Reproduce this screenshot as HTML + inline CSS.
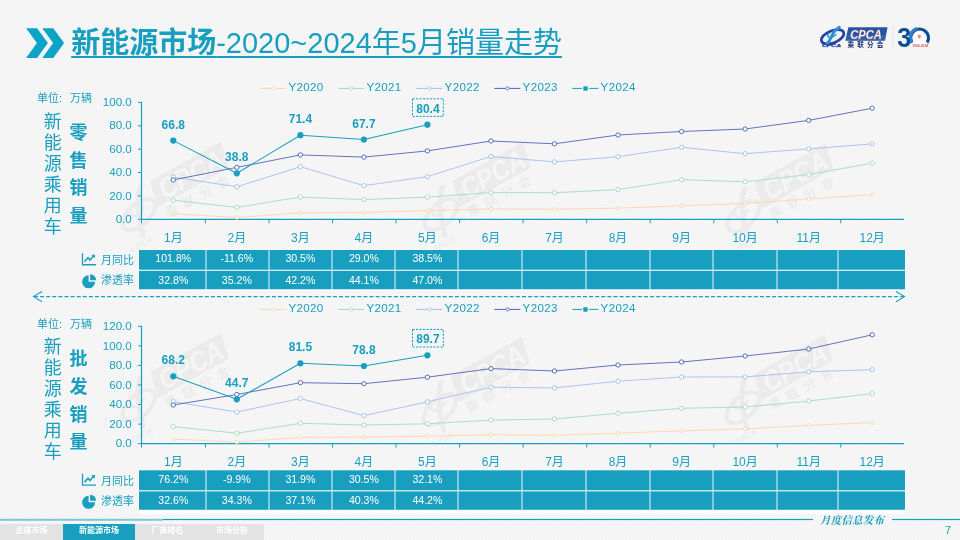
<!DOCTYPE html>
<html lang="zh-CN">
<head>
<meta charset="utf-8">
<title>新能源市场-2020~2024年5月销量走势</title>
<style>
html,body{margin:0;padding:0;}
body{width:960px;height:540px;overflow:hidden;position:relative;font-family:"Liberation Sans","Noto Sans CJK SC",sans-serif;color:#189fbf;
background:#f6f6f6;}
.bg{position:absolute;left:0;top:0;width:960px;height:540px;
}
h1{position:absolute;left:71.2px;top:23.2px;margin:0;font-size:29px;line-height:40px;font-weight:normal;white-space:nowrap;color:#189fbf;
text-decoration:underline;text-decoration-thickness:2px;text-underline-offset:2.8px;}
h1 b{font-weight:bold;}
svg text{font-family:"Liberation Sans","Noto Sans CJK SC",sans-serif;}
.chev{position:absolute;left:20px;top:20px;}
nav{position:absolute;left:0;top:524px;height:16px;display:flex;font-size:8px;font-weight:bold;color:#fff;line-height:14px;}
nav span{display:block;height:16px;text-align:center;background:#e3e3e3;}
nav span.on{background:#189fbf;}
.foot{position:absolute;left:820px;top:511.5px;font-family:"Liberation Serif","Noto Serif CJK SC",serif;font-style:italic;font-weight:bold;font-size:10.5px;letter-spacing:0.2px;color:#189fbf;white-space:nowrap;}
.pn{position:absolute;left:940px;top:524px;width:16px;text-align:center;font-size:11px;color:#189fbf;}
.logo{position:absolute;left:815px;top:20px;}
</style>
</head>
<body>
<svg class="bg" width="960" height="540" viewBox="0 0 960 540" shape-rendering="crispEdges"><defs><pattern id="dg" width="3" height="3" patternUnits="userSpaceOnUse"><rect width="3" height="3" fill="#f2f2f2"/><rect x="0" y="2" width="1" height="1" fill="#fbfbfb"/><rect x="1" y="1" width="1" height="1" fill="#fbfbfb"/><rect x="2" y="0" width="1" height="1" fill="#fbfbfb"/></pattern></defs><rect width="960" height="540" fill="url(#dg)"/></svg>
<svg class="chev" width="50" height="40" viewBox="20 20 50 40"><polygon points="26.1,28.2 37.1,28.2 47.9,43.1 37.1,58 26.1,58 36.9,43.1" fill="#0ca4c6"/><polygon points="42.3,28.2 53.3,28.2 64.1,43.1 53.3,58 42.3,58 53.1,43.1" fill="#0ca4c6"/></svg>
<h1><b>新能源市场</b>-2020~2024年5月销量走势</h1>
<svg class="logo" width="140" height="40" viewBox="815 20 140 40">
<ellipse cx="832.6" cy="36.8" rx="11.9" ry="6.1" fill="#eef3fa" stroke="#2343a0" stroke-width="2.7" transform="rotate(-22 832.6 36.8)"/>
<path d="M839.3,27.2 C836.5,28.8 833.5,32 832,35.5 C830.5,39 829,42 826.6,44.3" fill="none" stroke="#2b8fd9" stroke-width="3" stroke-linecap="round"/>
<path d="M829.2,33.2 C827.6,34.4 827.2,36.4 828.6,37.2 C830.2,38 833.6,36.6 836.4,34.2" fill="none" stroke="#2b8fd9" stroke-width="1.5"/>
<text x="822" y="46.9" font-size="3.8" font-weight="bold" font-style="italic" fill="#1f3f9a" stroke="#1f3f9a" stroke-width="0.25" textLength="19" lengthAdjust="spacingAndGlyphs">CPCA</text>
<polygon points="848.3,27.3 887.5,27.3 885,40.8 845.4,40.8" fill="#2455a4"/>
<polygon points="846.6,35.5 886,35.5 885.6,37.2 846.2,37.2" fill="#4f79bd" opacity="0.6"/>
<polygon points="845.9,38.6 885.4,38.6 885.1,39.8 845.6,39.8" fill="#4f79bd" opacity="0.6"/>
<text x="850.2" y="38.7" font-size="12.8" font-style="italic" font-weight="bold" fill="#ffffff" stroke="#ee7777" stroke-width="0.3" textLength="31.6" lengthAdjust="spacingAndGlyphs">CPCA</text>
<text x="847.6" y="47" font-size="6.6" font-weight="bold" fill="#1c2f6e" letter-spacing="3.1">乘联分会</text>
<line x1="893.1" y1="26" x2="893.1" y2="48" stroke="#e6e6e6" stroke-width="1.2"/>
<circle cx="919.6" cy="37" r="8.4" fill="#ffffff"/>
<path d="M912.0,42.6 A8.9,8.9 0 1 1 927.2,42.6" fill="none" stroke="#0f4c96" stroke-width="3.1"/>
<path d="M912.0,42.6 A8.9,8.9 0 0 1 917.5,28.5" fill="none" stroke="#2c86c6" stroke-width="3.1"/>
<text x="897.2" y="46.9" font-size="27.3" font-weight="bold" fill="#0f4c96" textLength="14" lengthAdjust="spacingAndGlyphs">3</text>
<text x="917.6" y="38.2" font-size="3.8" font-weight="bold" fill="#e05a5a">年</text>
<text x="912.2" y="46.6" font-size="3.4" font-weight="bold" fill="#e05a5a" textLength="16" lengthAdjust="spacingAndGlyphs">1994-2024</text>
</svg>
<svg width="960" height="540" viewBox="0 0 960 540" fill="#189fbf" style="position:absolute;left:0;top:0">
<g transform="translate(150,181) rotate(-29) scale(1.0)">
<polygon points="0,0 81,0 75.4,26.6 -5.6,26.6" fill="#ebebeb"/>
<text x="4" y="23.5" font-size="28" font-weight="bold" font-style="italic" fill="#f5f5f5" textLength="70" lengthAdjust="spacingAndGlyphs">CPCA</text>
<text x="-2" y="41" font-size="13" font-weight="bold" fill="#ebebeb" letter-spacing="6.5">乘联分会</text>
<ellipse cx="-26" cy="24" rx="20" ry="10.5" fill="none" stroke="#ebebeb" stroke-width="4" transform="rotate(-14 -26 24)"/>
<path d="M-10,0 C-20,6 -27,22 -33,46" fill="none" stroke="#ebebeb" stroke-width="5"/>
<path d="M-30,14 C-36,20 -32,28 -18,20" fill="none" stroke="#ebebeb" stroke-width="3"/>
<text x="-50" y="54" font-size="8.5" font-weight="bold" font-style="italic" fill="#ebebeb">CPCA</text>
</g>
<g transform="translate(452,181) rotate(-29) scale(1.0)">
<polygon points="0,0 81,0 75.4,26.6 -5.6,26.6" fill="#ebebeb"/>
<text x="4" y="23.5" font-size="28" font-weight="bold" font-style="italic" fill="#f5f5f5" textLength="70" lengthAdjust="spacingAndGlyphs">CPCA</text>
<text x="-2" y="41" font-size="13" font-weight="bold" fill="#ebebeb" letter-spacing="6.5">乘联分会</text>
<ellipse cx="-26" cy="24" rx="20" ry="10.5" fill="none" stroke="#ebebeb" stroke-width="4" transform="rotate(-14 -26 24)"/>
<path d="M-10,0 C-20,6 -27,22 -33,46" fill="none" stroke="#ebebeb" stroke-width="5"/>
<path d="M-30,14 C-36,20 -32,28 -18,20" fill="none" stroke="#ebebeb" stroke-width="3"/>
<text x="-50" y="54" font-size="8.5" font-weight="bold" font-style="italic" fill="#ebebeb">CPCA</text>
</g>
<g transform="translate(754.5,182.5) rotate(-29) scale(1.0)">
<polygon points="0,0 81,0 75.4,26.6 -5.6,26.6" fill="#ebebeb"/>
<text x="4" y="23.5" font-size="28" font-weight="bold" font-style="italic" fill="#f5f5f5" textLength="70" lengthAdjust="spacingAndGlyphs">CPCA</text>
<text x="-2" y="41" font-size="13" font-weight="bold" fill="#ebebeb" letter-spacing="6.5">乘联分会</text>
<ellipse cx="-26" cy="24" rx="20" ry="10.5" fill="none" stroke="#ebebeb" stroke-width="4" transform="rotate(-14 -26 24)"/>
<path d="M-10,0 C-20,6 -27,22 -33,46" fill="none" stroke="#ebebeb" stroke-width="5"/>
<path d="M-30,14 C-36,20 -32,28 -18,20" fill="none" stroke="#ebebeb" stroke-width="3"/>
<text x="-50" y="54" font-size="8.5" font-weight="bold" font-style="italic" fill="#ebebeb">CPCA</text>
</g>
<g transform="translate(150,372) rotate(-29) scale(1.0)">
<polygon points="0,0 81,0 75.4,26.6 -5.6,26.6" fill="#ebebeb"/>
<text x="4" y="23.5" font-size="28" font-weight="bold" font-style="italic" fill="#f5f5f5" textLength="70" lengthAdjust="spacingAndGlyphs">CPCA</text>
<text x="-2" y="41" font-size="13" font-weight="bold" fill="#ebebeb" letter-spacing="6.5">乘联分会</text>
<ellipse cx="-26" cy="24" rx="20" ry="10.5" fill="none" stroke="#ebebeb" stroke-width="4" transform="rotate(-14 -26 24)"/>
<path d="M-10,0 C-20,6 -27,22 -33,46" fill="none" stroke="#ebebeb" stroke-width="5"/>
<path d="M-30,14 C-36,20 -32,28 -18,20" fill="none" stroke="#ebebeb" stroke-width="3"/>
<text x="-50" y="54" font-size="8.5" font-weight="bold" font-style="italic" fill="#ebebeb">CPCA</text>
</g>
<g transform="translate(451,376) rotate(-29) scale(1.0)">
<polygon points="0,0 81,0 75.4,26.6 -5.6,26.6" fill="#ebebeb"/>
<text x="4" y="23.5" font-size="28" font-weight="bold" font-style="italic" fill="#f5f5f5" textLength="70" lengthAdjust="spacingAndGlyphs">CPCA</text>
<text x="-2" y="41" font-size="13" font-weight="bold" fill="#ebebeb" letter-spacing="6.5">乘联分会</text>
<ellipse cx="-26" cy="24" rx="20" ry="10.5" fill="none" stroke="#ebebeb" stroke-width="4" transform="rotate(-14 -26 24)"/>
<path d="M-10,0 C-20,6 -27,22 -33,46" fill="none" stroke="#ebebeb" stroke-width="5"/>
<path d="M-30,14 C-36,20 -32,28 -18,20" fill="none" stroke="#ebebeb" stroke-width="3"/>
<text x="-50" y="54" font-size="8.5" font-weight="bold" font-style="italic" fill="#ebebeb">CPCA</text>
</g>
<g transform="translate(754,374) rotate(-29) scale(1.0)">
<polygon points="0,0 81,0 75.4,26.6 -5.6,26.6" fill="#ebebeb"/>
<text x="4" y="23.5" font-size="28" font-weight="bold" font-style="italic" fill="#f5f5f5" textLength="70" lengthAdjust="spacingAndGlyphs">CPCA</text>
<text x="-2" y="41" font-size="13" font-weight="bold" fill="#ebebeb" letter-spacing="6.5">乘联分会</text>
<ellipse cx="-26" cy="24" rx="20" ry="10.5" fill="none" stroke="#ebebeb" stroke-width="4" transform="rotate(-14 -26 24)"/>
<path d="M-10,0 C-20,6 -27,22 -33,46" fill="none" stroke="#ebebeb" stroke-width="5"/>
<path d="M-30,14 C-36,20 -32,28 -18,20" fill="none" stroke="#ebebeb" stroke-width="3"/>
<text x="-50" y="54" font-size="8.5" font-weight="bold" font-style="italic" fill="#ebebeb">CPCA</text>
</g>
<line x1="260.2" y1="88.4" x2="286.2" y2="88.4" stroke="#f9d7a6" stroke-width="1"/>
<circle cx="273.4" cy="88.4" r="1.6" fill="#fff" stroke="#f9d7a6" stroke-width="0.8"/>
<text x="288.5" y="91.2" font-size="11.6" letter-spacing="0.32" style="font-kerning:none">Y2020</text>
<line x1="338.2" y1="88.4" x2="364.2" y2="88.4" stroke="#a4dbbe" stroke-width="1"/>
<circle cx="351.4" cy="88.4" r="1.6" fill="#fff" stroke="#a4dbbe" stroke-width="0.8"/>
<text x="366.5" y="91.2" font-size="11.6" letter-spacing="0.32" style="font-kerning:none">Y2021</text>
<line x1="416.3" y1="88.4" x2="442.3" y2="88.4" stroke="#a3c0ef" stroke-width="1"/>
<circle cx="429.5" cy="88.4" r="1.6" fill="#fff" stroke="#a3c0ef" stroke-width="0.8"/>
<text x="444.6" y="91.2" font-size="11.6" letter-spacing="0.32" style="font-kerning:none">Y2022</text>
<line x1="494.3" y1="88.4" x2="520.3" y2="88.4" stroke="#5165b6" stroke-width="1"/>
<circle cx="507.5" cy="88.4" r="1.6" fill="#fff" stroke="#5165b6" stroke-width="0.8"/>
<text x="522.6" y="91.2" font-size="11.6" letter-spacing="0.32" style="font-kerning:none">Y2023</text>
<line x1="572.3" y1="88.4" x2="598.3" y2="88.4" stroke="#189fbf" stroke-width="1"/>
<rect x="582.6" y="85.5" width="5.8" height="5.8" rx="1.6" fill="#189fbf" stroke="#f6f6f6" stroke-width="1.3"/>
<text x="600.6" y="91.2" font-size="11.6" letter-spacing="0.32" style="font-kerning:none">Y2024</text>
<line x1="141.5" y1="101.9" x2="141.5" y2="219.8" stroke="#189fbf" stroke-width="1.25"/>
<line x1="141.0" y1="219.3" x2="904" y2="219.3" stroke="#189fbf" stroke-width="1.25"/>
<line x1="138.0" y1="219.3" x2="141.5" y2="219.3" stroke="#189fbf" stroke-width="1"/>
<text x="131.8" y="222.9" font-size="11.6" text-anchor="end">0.0</text>
<line x1="138.0" y1="195.9" x2="141.5" y2="195.9" stroke="#189fbf" stroke-width="1"/>
<text x="131.8" y="199.5" font-size="11.6" text-anchor="end">20.0</text>
<line x1="138.0" y1="172.5" x2="141.5" y2="172.5" stroke="#189fbf" stroke-width="1"/>
<text x="131.8" y="176.1" font-size="11.6" text-anchor="end">40.0</text>
<line x1="138.0" y1="149.2" x2="141.5" y2="149.2" stroke="#189fbf" stroke-width="1"/>
<text x="131.8" y="152.8" font-size="11.6" text-anchor="end">60.0</text>
<line x1="138.0" y1="125.8" x2="141.5" y2="125.8" stroke="#189fbf" stroke-width="1"/>
<text x="131.8" y="129.4" font-size="11.6" text-anchor="end">80.0</text>
<line x1="138.0" y1="102.4" x2="141.5" y2="102.4" stroke="#189fbf" stroke-width="1"/>
<text x="131.8" y="106.0" font-size="11.6" text-anchor="end">100.0</text>
<line x1="141.5" y1="219.3" x2="141.5" y2="223.3" stroke="#189fbf" stroke-width="1"/>
<line x1="205.4" y1="219.3" x2="205.4" y2="223.3" stroke="#189fbf" stroke-width="1"/>
<line x1="269.0" y1="219.3" x2="269.0" y2="223.3" stroke="#189fbf" stroke-width="1"/>
<line x1="332.5" y1="219.3" x2="332.5" y2="223.3" stroke="#189fbf" stroke-width="1"/>
<line x1="396.1" y1="219.3" x2="396.1" y2="223.3" stroke="#189fbf" stroke-width="1"/>
<line x1="459.6" y1="219.3" x2="459.6" y2="223.3" stroke="#189fbf" stroke-width="1"/>
<line x1="523.1" y1="219.3" x2="523.1" y2="223.3" stroke="#189fbf" stroke-width="1"/>
<line x1="586.7" y1="219.3" x2="586.7" y2="223.3" stroke="#189fbf" stroke-width="1"/>
<line x1="650.2" y1="219.3" x2="650.2" y2="223.3" stroke="#189fbf" stroke-width="1"/>
<line x1="713.8" y1="219.3" x2="713.8" y2="223.3" stroke="#189fbf" stroke-width="1"/>
<line x1="777.3" y1="219.3" x2="777.3" y2="223.3" stroke="#189fbf" stroke-width="1"/>
<line x1="840.8" y1="219.3" x2="840.8" y2="223.3" stroke="#189fbf" stroke-width="1"/>
<text x="173.3" y="241.5" font-size="12" text-anchor="middle">1月</text>
<text x="236.8" y="241.5" font-size="12" text-anchor="middle">2月</text>
<text x="300.4" y="241.5" font-size="12" text-anchor="middle">3月</text>
<text x="363.9" y="241.5" font-size="12" text-anchor="middle">4月</text>
<text x="427.4" y="241.5" font-size="12" text-anchor="middle">5月</text>
<text x="491.0" y="241.5" font-size="12" text-anchor="middle">6月</text>
<text x="554.5" y="241.5" font-size="12" text-anchor="middle">7月</text>
<text x="618.0" y="241.5" font-size="12" text-anchor="middle">8月</text>
<text x="681.6" y="241.5" font-size="12" text-anchor="middle">9月</text>
<text x="745.1" y="241.5" font-size="12" text-anchor="middle">10月</text>
<text x="808.7" y="241.5" font-size="12" text-anchor="middle">11月</text>
<text x="872.2" y="241.5" font-size="12" text-anchor="middle">12月</text>
<polyline points="173.3,213.8 236.8,217.5 300.4,212.9 363.9,212.5 427.4,210.5 491.0,209.0 554.5,209.3 618.0,208.2 681.6,205.8 745.1,203.5 808.7,198.9 872.2,194.6" fill="none" stroke="#f9d7a6" stroke-width="0.9" stroke-linejoin="round"/>
<circle cx="173.3" cy="213.8" r="1.75" fill="#fff" stroke="#f9d7a6" stroke-width="0.95"/>
<circle cx="236.8" cy="217.5" r="1.75" fill="#fff" stroke="#f9d7a6" stroke-width="0.95"/>
<circle cx="300.4" cy="212.9" r="1.75" fill="#fff" stroke="#f9d7a6" stroke-width="0.95"/>
<circle cx="363.9" cy="212.5" r="1.75" fill="#fff" stroke="#f9d7a6" stroke-width="0.95"/>
<circle cx="427.4" cy="210.5" r="1.75" fill="#fff" stroke="#f9d7a6" stroke-width="0.95"/>
<circle cx="491.0" cy="209.0" r="1.75" fill="#fff" stroke="#f9d7a6" stroke-width="0.95"/>
<circle cx="554.5" cy="209.3" r="1.75" fill="#fff" stroke="#f9d7a6" stroke-width="0.95"/>
<circle cx="618.0" cy="208.2" r="1.75" fill="#fff" stroke="#f9d7a6" stroke-width="0.95"/>
<circle cx="681.6" cy="205.8" r="1.75" fill="#fff" stroke="#f9d7a6" stroke-width="0.95"/>
<circle cx="745.1" cy="203.5" r="1.75" fill="#fff" stroke="#f9d7a6" stroke-width="0.95"/>
<circle cx="808.7" cy="198.9" r="1.75" fill="#fff" stroke="#f9d7a6" stroke-width="0.95"/>
<circle cx="872.2" cy="194.6" r="1.75" fill="#fff" stroke="#f9d7a6" stroke-width="0.95"/>
<polyline points="173.3,200.2 236.8,207.4 300.4,197.1 363.9,199.6 427.4,197.1 491.0,192.6 554.5,192.7 618.0,189.6 681.6,179.7 745.1,181.8 808.7,174.5 872.2,163.2" fill="none" stroke="#a4dbbe" stroke-width="0.9" stroke-linejoin="round"/>
<circle cx="173.3" cy="200.2" r="2.15" fill="#fff" stroke="#a4dbbe" stroke-width="0.95"/>
<circle cx="236.8" cy="207.4" r="2.15" fill="#fff" stroke="#a4dbbe" stroke-width="0.95"/>
<circle cx="300.4" cy="197.1" r="2.15" fill="#fff" stroke="#a4dbbe" stroke-width="0.95"/>
<circle cx="363.9" cy="199.6" r="2.15" fill="#fff" stroke="#a4dbbe" stroke-width="0.95"/>
<circle cx="427.4" cy="197.1" r="2.15" fill="#fff" stroke="#a4dbbe" stroke-width="0.95"/>
<circle cx="491.0" cy="192.6" r="2.15" fill="#fff" stroke="#a4dbbe" stroke-width="0.95"/>
<circle cx="554.5" cy="192.7" r="2.15" fill="#fff" stroke="#a4dbbe" stroke-width="0.95"/>
<circle cx="618.0" cy="189.6" r="2.15" fill="#fff" stroke="#a4dbbe" stroke-width="0.95"/>
<circle cx="681.6" cy="179.7" r="2.15" fill="#fff" stroke="#a4dbbe" stroke-width="0.95"/>
<circle cx="745.1" cy="181.8" r="2.15" fill="#fff" stroke="#a4dbbe" stroke-width="0.95"/>
<circle cx="808.7" cy="174.5" r="2.15" fill="#fff" stroke="#a4dbbe" stroke-width="0.95"/>
<circle cx="872.2" cy="163.2" r="2.15" fill="#fff" stroke="#a4dbbe" stroke-width="0.95"/>
<polyline points="173.3,177.1 236.8,186.8 300.4,166.7 363.9,185.7 427.4,176.6 491.0,156.5 554.5,161.9 618.0,156.7 681.6,147.3 745.1,153.7 808.7,148.8 872.2,143.9" fill="none" stroke="#a3c0ef" stroke-width="0.9" stroke-linejoin="round"/>
<circle cx="173.3" cy="177.1" r="2.15" fill="#fff" stroke="#a3c0ef" stroke-width="0.95"/>
<circle cx="236.8" cy="186.8" r="2.15" fill="#fff" stroke="#a3c0ef" stroke-width="0.95"/>
<circle cx="300.4" cy="166.7" r="2.15" fill="#fff" stroke="#a3c0ef" stroke-width="0.95"/>
<circle cx="363.9" cy="185.7" r="2.15" fill="#fff" stroke="#a3c0ef" stroke-width="0.95"/>
<circle cx="427.4" cy="176.6" r="2.15" fill="#fff" stroke="#a3c0ef" stroke-width="0.95"/>
<circle cx="491.0" cy="156.5" r="2.15" fill="#fff" stroke="#a3c0ef" stroke-width="0.95"/>
<circle cx="554.5" cy="161.9" r="2.15" fill="#fff" stroke="#a3c0ef" stroke-width="0.95"/>
<circle cx="618.0" cy="156.7" r="2.15" fill="#fff" stroke="#a3c0ef" stroke-width="0.95"/>
<circle cx="681.6" cy="147.3" r="2.15" fill="#fff" stroke="#a3c0ef" stroke-width="0.95"/>
<circle cx="745.1" cy="153.7" r="2.15" fill="#fff" stroke="#a3c0ef" stroke-width="0.95"/>
<circle cx="808.7" cy="148.8" r="2.15" fill="#fff" stroke="#a3c0ef" stroke-width="0.95"/>
<circle cx="872.2" cy="143.9" r="2.15" fill="#fff" stroke="#a3c0ef" stroke-width="0.95"/>
<polyline points="173.3,179.9 236.8,167.4 300.4,154.9 363.9,157.1 427.4,150.9 491.0,141.0 554.5,143.8 618.0,135.0 681.6,131.5 745.1,129.0 808.7,120.4 872.2,108.2" fill="none" stroke="#5165b6" stroke-width="0.9" stroke-linejoin="round"/>
<circle cx="173.3" cy="179.9" r="2.15" fill="#fff" stroke="#5165b6" stroke-width="0.95"/>
<circle cx="236.8" cy="167.4" r="2.15" fill="#fff" stroke="#5165b6" stroke-width="0.95"/>
<circle cx="300.4" cy="154.9" r="2.15" fill="#fff" stroke="#5165b6" stroke-width="0.95"/>
<circle cx="363.9" cy="157.1" r="2.15" fill="#fff" stroke="#5165b6" stroke-width="0.95"/>
<circle cx="427.4" cy="150.9" r="2.15" fill="#fff" stroke="#5165b6" stroke-width="0.95"/>
<circle cx="491.0" cy="141.0" r="2.15" fill="#fff" stroke="#5165b6" stroke-width="0.95"/>
<circle cx="554.5" cy="143.8" r="2.15" fill="#fff" stroke="#5165b6" stroke-width="0.95"/>
<circle cx="618.0" cy="135.0" r="2.15" fill="#fff" stroke="#5165b6" stroke-width="0.95"/>
<circle cx="681.6" cy="131.5" r="2.15" fill="#fff" stroke="#5165b6" stroke-width="0.95"/>
<circle cx="745.1" cy="129.0" r="2.15" fill="#fff" stroke="#5165b6" stroke-width="0.95"/>
<circle cx="808.7" cy="120.4" r="2.15" fill="#fff" stroke="#5165b6" stroke-width="0.95"/>
<circle cx="872.2" cy="108.2" r="2.15" fill="#fff" stroke="#5165b6" stroke-width="0.95"/>
<polyline points="173.3,140.6 236.8,173.3 300.4,135.2 363.9,139.6 427.4,124.7" fill="none" stroke="#189fbf" stroke-width="1.05" stroke-linejoin="round"/>
<circle cx="173.3" cy="140.6" r="3.1" fill="#189fbf"/>
<circle cx="236.8" cy="173.3" r="3.1" fill="#189fbf"/>
<circle cx="300.4" cy="135.2" r="3.1" fill="#189fbf"/>
<circle cx="363.9" cy="139.6" r="3.1" fill="#189fbf"/>
<circle cx="427.4" cy="124.7" r="3.1" fill="#189fbf"/>
<text x="173.3" y="128.6" font-size="12" font-weight="bold" text-anchor="middle">66.8</text>
<text x="236.8" y="161.3" font-size="12" font-weight="bold" text-anchor="middle">38.8</text>
<text x="300.4" y="123.2" font-size="12" font-weight="bold" text-anchor="middle">71.4</text>
<text x="363.9" y="127.6" font-size="12" font-weight="bold" text-anchor="middle">67.7</text>
<rect x="412.5" y="98.8" width="30.8" height="17.6" fill="none" stroke="#189fbf" stroke-width="1" stroke-dasharray="2.2 1.3"/>
<text x="427.9" y="112.7" font-size="12" font-weight="bold" text-anchor="middle">80.4</text>
<line x1="260.2" y1="309.4" x2="286.2" y2="309.4" stroke="#f9d7a6" stroke-width="1"/>
<circle cx="273.4" cy="309.4" r="1.6" fill="#fff" stroke="#f9d7a6" stroke-width="0.8"/>
<text x="288.5" y="312.2" font-size="11.6" letter-spacing="0.32" style="font-kerning:none">Y2020</text>
<line x1="338.2" y1="309.4" x2="364.2" y2="309.4" stroke="#a4dbbe" stroke-width="1"/>
<circle cx="351.4" cy="309.4" r="1.6" fill="#fff" stroke="#a4dbbe" stroke-width="0.8"/>
<text x="366.5" y="312.2" font-size="11.6" letter-spacing="0.32" style="font-kerning:none">Y2021</text>
<line x1="416.3" y1="309.4" x2="442.3" y2="309.4" stroke="#a3c0ef" stroke-width="1"/>
<circle cx="429.5" cy="309.4" r="1.6" fill="#fff" stroke="#a3c0ef" stroke-width="0.8"/>
<text x="444.6" y="312.2" font-size="11.6" letter-spacing="0.32" style="font-kerning:none">Y2022</text>
<line x1="494.3" y1="309.4" x2="520.3" y2="309.4" stroke="#5165b6" stroke-width="1"/>
<circle cx="507.5" cy="309.4" r="1.6" fill="#fff" stroke="#5165b6" stroke-width="0.8"/>
<text x="522.6" y="312.2" font-size="11.6" letter-spacing="0.32" style="font-kerning:none">Y2023</text>
<line x1="572.3" y1="309.4" x2="598.3" y2="309.4" stroke="#189fbf" stroke-width="1"/>
<rect x="582.6" y="306.5" width="5.8" height="5.8" rx="1.6" fill="#189fbf" stroke="#f6f6f6" stroke-width="1.3"/>
<text x="600.6" y="312.2" font-size="11.6" letter-spacing="0.32" style="font-kerning:none">Y2024</text>
<line x1="141.5" y1="325.8" x2="141.5" y2="444.1" stroke="#189fbf" stroke-width="1.25"/>
<line x1="141.0" y1="443.6" x2="904" y2="443.6" stroke="#189fbf" stroke-width="1.25"/>
<line x1="138.0" y1="443.6" x2="141.5" y2="443.6" stroke="#189fbf" stroke-width="1"/>
<text x="131.8" y="447.2" font-size="11.6" text-anchor="end">0.0</text>
<line x1="138.0" y1="424.1" x2="141.5" y2="424.1" stroke="#189fbf" stroke-width="1"/>
<text x="131.8" y="427.7" font-size="11.6" text-anchor="end">20.0</text>
<line x1="138.0" y1="404.5" x2="141.5" y2="404.5" stroke="#189fbf" stroke-width="1"/>
<text x="131.8" y="408.1" font-size="11.6" text-anchor="end">40.0</text>
<line x1="138.0" y1="385.0" x2="141.5" y2="385.0" stroke="#189fbf" stroke-width="1"/>
<text x="131.8" y="388.6" font-size="11.6" text-anchor="end">60.0</text>
<line x1="138.0" y1="365.4" x2="141.5" y2="365.4" stroke="#189fbf" stroke-width="1"/>
<text x="131.8" y="369.0" font-size="11.6" text-anchor="end">80.0</text>
<line x1="138.0" y1="345.9" x2="141.5" y2="345.9" stroke="#189fbf" stroke-width="1"/>
<text x="131.8" y="349.5" font-size="11.6" text-anchor="end">100.0</text>
<line x1="138.0" y1="326.3" x2="141.5" y2="326.3" stroke="#189fbf" stroke-width="1"/>
<text x="131.8" y="329.9" font-size="11.6" text-anchor="end">120.0</text>
<line x1="141.5" y1="443.6" x2="141.5" y2="447.6" stroke="#189fbf" stroke-width="1"/>
<line x1="205.4" y1="443.6" x2="205.4" y2="447.6" stroke="#189fbf" stroke-width="1"/>
<line x1="269.0" y1="443.6" x2="269.0" y2="447.6" stroke="#189fbf" stroke-width="1"/>
<line x1="332.5" y1="443.6" x2="332.5" y2="447.6" stroke="#189fbf" stroke-width="1"/>
<line x1="396.1" y1="443.6" x2="396.1" y2="447.6" stroke="#189fbf" stroke-width="1"/>
<line x1="459.6" y1="443.6" x2="459.6" y2="447.6" stroke="#189fbf" stroke-width="1"/>
<line x1="523.1" y1="443.6" x2="523.1" y2="447.6" stroke="#189fbf" stroke-width="1"/>
<line x1="586.7" y1="443.6" x2="586.7" y2="447.6" stroke="#189fbf" stroke-width="1"/>
<line x1="650.2" y1="443.6" x2="650.2" y2="447.6" stroke="#189fbf" stroke-width="1"/>
<line x1="713.8" y1="443.6" x2="713.8" y2="447.6" stroke="#189fbf" stroke-width="1"/>
<line x1="777.3" y1="443.6" x2="777.3" y2="447.6" stroke="#189fbf" stroke-width="1"/>
<line x1="840.8" y1="443.6" x2="840.8" y2="447.6" stroke="#189fbf" stroke-width="1"/>
<text x="173.3" y="465.5" font-size="12" text-anchor="middle">1月</text>
<text x="236.8" y="465.5" font-size="12" text-anchor="middle">2月</text>
<text x="300.4" y="465.5" font-size="12" text-anchor="middle">3月</text>
<text x="363.9" y="465.5" font-size="12" text-anchor="middle">4月</text>
<text x="427.4" y="465.5" font-size="12" text-anchor="middle">5月</text>
<text x="491.0" y="465.5" font-size="12" text-anchor="middle">6月</text>
<text x="554.5" y="465.5" font-size="12" text-anchor="middle">7月</text>
<text x="618.0" y="465.5" font-size="12" text-anchor="middle">8月</text>
<text x="681.6" y="465.5" font-size="12" text-anchor="middle">9月</text>
<text x="745.1" y="465.5" font-size="12" text-anchor="middle">10月</text>
<text x="808.7" y="465.5" font-size="12" text-anchor="middle">11月</text>
<text x="872.2" y="465.5" font-size="12" text-anchor="middle">12月</text>
<polyline points="173.3,439.1 236.8,441.9 300.4,437.5 363.9,437.1 427.4,436.2 491.0,434.7 554.5,435.2 618.0,433.2 681.6,430.8 745.1,428.9 808.7,425.4 872.2,422.5" fill="none" stroke="#f9d7a6" stroke-width="0.9" stroke-linejoin="round"/>
<circle cx="173.3" cy="439.1" r="1.75" fill="#fff" stroke="#f9d7a6" stroke-width="0.95"/>
<circle cx="236.8" cy="441.9" r="1.75" fill="#fff" stroke="#f9d7a6" stroke-width="0.95"/>
<circle cx="300.4" cy="437.5" r="1.75" fill="#fff" stroke="#f9d7a6" stroke-width="0.95"/>
<circle cx="363.9" cy="437.1" r="1.75" fill="#fff" stroke="#f9d7a6" stroke-width="0.95"/>
<circle cx="427.4" cy="436.2" r="1.75" fill="#fff" stroke="#f9d7a6" stroke-width="0.95"/>
<circle cx="491.0" cy="434.7" r="1.75" fill="#fff" stroke="#f9d7a6" stroke-width="0.95"/>
<circle cx="554.5" cy="435.2" r="1.75" fill="#fff" stroke="#f9d7a6" stroke-width="0.95"/>
<circle cx="618.0" cy="433.2" r="1.75" fill="#fff" stroke="#f9d7a6" stroke-width="0.95"/>
<circle cx="681.6" cy="430.8" r="1.75" fill="#fff" stroke="#f9d7a6" stroke-width="0.95"/>
<circle cx="745.1" cy="428.9" r="1.75" fill="#fff" stroke="#f9d7a6" stroke-width="0.95"/>
<circle cx="808.7" cy="425.4" r="1.75" fill="#fff" stroke="#f9d7a6" stroke-width="0.95"/>
<circle cx="872.2" cy="422.5" r="1.75" fill="#fff" stroke="#f9d7a6" stroke-width="0.95"/>
<polyline points="173.3,426.6 236.8,433.2 300.4,423.3 363.9,425.0 427.4,423.8 491.0,420.1 554.5,419.0 618.0,413.3 681.6,408.3 745.1,407.0 808.7,401.1 872.2,393.6" fill="none" stroke="#a4dbbe" stroke-width="0.9" stroke-linejoin="round"/>
<circle cx="173.3" cy="426.6" r="2.15" fill="#fff" stroke="#a4dbbe" stroke-width="0.95"/>
<circle cx="236.8" cy="433.2" r="2.15" fill="#fff" stroke="#a4dbbe" stroke-width="0.95"/>
<circle cx="300.4" cy="423.3" r="2.15" fill="#fff" stroke="#a4dbbe" stroke-width="0.95"/>
<circle cx="363.9" cy="425.0" r="2.15" fill="#fff" stroke="#a4dbbe" stroke-width="0.95"/>
<circle cx="427.4" cy="423.8" r="2.15" fill="#fff" stroke="#a4dbbe" stroke-width="0.95"/>
<circle cx="491.0" cy="420.1" r="2.15" fill="#fff" stroke="#a4dbbe" stroke-width="0.95"/>
<circle cx="554.5" cy="419.0" r="2.15" fill="#fff" stroke="#a4dbbe" stroke-width="0.95"/>
<circle cx="618.0" cy="413.3" r="2.15" fill="#fff" stroke="#a4dbbe" stroke-width="0.95"/>
<circle cx="681.6" cy="408.3" r="2.15" fill="#fff" stroke="#a4dbbe" stroke-width="0.95"/>
<circle cx="745.1" cy="407.0" r="2.15" fill="#fff" stroke="#a4dbbe" stroke-width="0.95"/>
<circle cx="808.7" cy="401.1" r="2.15" fill="#fff" stroke="#a4dbbe" stroke-width="0.95"/>
<circle cx="872.2" cy="393.6" r="2.15" fill="#fff" stroke="#a4dbbe" stroke-width="0.95"/>
<polyline points="173.3,401.7 236.8,412.0 300.4,398.5 363.9,415.6 427.4,401.8 491.0,387.2 554.5,387.9 618.0,381.2 681.6,377.0 745.1,376.9 808.7,371.8 872.2,369.7" fill="none" stroke="#a3c0ef" stroke-width="0.9" stroke-linejoin="round"/>
<circle cx="173.3" cy="401.7" r="2.15" fill="#fff" stroke="#a3c0ef" stroke-width="0.95"/>
<circle cx="236.8" cy="412.0" r="2.15" fill="#fff" stroke="#a3c0ef" stroke-width="0.95"/>
<circle cx="300.4" cy="398.5" r="2.15" fill="#fff" stroke="#a3c0ef" stroke-width="0.95"/>
<circle cx="363.9" cy="415.6" r="2.15" fill="#fff" stroke="#a3c0ef" stroke-width="0.95"/>
<circle cx="427.4" cy="401.8" r="2.15" fill="#fff" stroke="#a3c0ef" stroke-width="0.95"/>
<circle cx="491.0" cy="387.2" r="2.15" fill="#fff" stroke="#a3c0ef" stroke-width="0.95"/>
<circle cx="554.5" cy="387.9" r="2.15" fill="#fff" stroke="#a3c0ef" stroke-width="0.95"/>
<circle cx="618.0" cy="381.2" r="2.15" fill="#fff" stroke="#a3c0ef" stroke-width="0.95"/>
<circle cx="681.6" cy="377.0" r="2.15" fill="#fff" stroke="#a3c0ef" stroke-width="0.95"/>
<circle cx="745.1" cy="376.9" r="2.15" fill="#fff" stroke="#a3c0ef" stroke-width="0.95"/>
<circle cx="808.7" cy="371.8" r="2.15" fill="#fff" stroke="#a3c0ef" stroke-width="0.95"/>
<circle cx="872.2" cy="369.7" r="2.15" fill="#fff" stroke="#a3c0ef" stroke-width="0.95"/>
<polyline points="173.3,405.0 236.8,394.5 300.4,382.7 363.9,383.7 427.4,377.2 491.0,368.6 554.5,371.0 618.0,365.0 681.6,362.0 745.1,356.0 808.7,349.0 872.2,334.8" fill="none" stroke="#5165b6" stroke-width="0.9" stroke-linejoin="round"/>
<circle cx="173.3" cy="405.0" r="2.15" fill="#fff" stroke="#5165b6" stroke-width="0.95"/>
<circle cx="236.8" cy="394.5" r="2.15" fill="#fff" stroke="#5165b6" stroke-width="0.95"/>
<circle cx="300.4" cy="382.7" r="2.15" fill="#fff" stroke="#5165b6" stroke-width="0.95"/>
<circle cx="363.9" cy="383.7" r="2.15" fill="#fff" stroke="#5165b6" stroke-width="0.95"/>
<circle cx="427.4" cy="377.2" r="2.15" fill="#fff" stroke="#5165b6" stroke-width="0.95"/>
<circle cx="491.0" cy="368.6" r="2.15" fill="#fff" stroke="#5165b6" stroke-width="0.95"/>
<circle cx="554.5" cy="371.0" r="2.15" fill="#fff" stroke="#5165b6" stroke-width="0.95"/>
<circle cx="618.0" cy="365.0" r="2.15" fill="#fff" stroke="#5165b6" stroke-width="0.95"/>
<circle cx="681.6" cy="362.0" r="2.15" fill="#fff" stroke="#5165b6" stroke-width="0.95"/>
<circle cx="745.1" cy="356.0" r="2.15" fill="#fff" stroke="#5165b6" stroke-width="0.95"/>
<circle cx="808.7" cy="349.0" r="2.15" fill="#fff" stroke="#5165b6" stroke-width="0.95"/>
<circle cx="872.2" cy="334.8" r="2.15" fill="#fff" stroke="#5165b6" stroke-width="0.95"/>
<polyline points="173.3,376.3 236.8,399.3 300.4,363.3 363.9,366.0 427.4,355.3" fill="none" stroke="#189fbf" stroke-width="1.05" stroke-linejoin="round"/>
<circle cx="173.3" cy="376.3" r="3.1" fill="#189fbf"/>
<circle cx="236.8" cy="399.3" r="3.1" fill="#189fbf"/>
<circle cx="300.4" cy="363.3" r="3.1" fill="#189fbf"/>
<circle cx="363.9" cy="366.0" r="3.1" fill="#189fbf"/>
<circle cx="427.4" cy="355.3" r="3.1" fill="#189fbf"/>
<text x="173.3" y="364.3" font-size="12" font-weight="bold" text-anchor="middle">68.2</text>
<text x="236.8" y="387.3" font-size="12" font-weight="bold" text-anchor="middle">44.7</text>
<text x="300.4" y="351.3" font-size="12" font-weight="bold" text-anchor="middle">81.5</text>
<text x="363.9" y="354.0" font-size="12" font-weight="bold" text-anchor="middle">78.8</text>
<rect x="412.5" y="329.4" width="30.8" height="17.6" fill="none" stroke="#189fbf" stroke-width="1" stroke-dasharray="2.2 1.3"/>
<text x="427.9" y="343.3" font-size="12" font-weight="bold" text-anchor="middle">89.7</text>
<rect x="138" y="249.5" width="767.5" height="41.5" fill="#ffffff"/>
<rect x="139" y="250" width="66.5" height="19.70000000000001" fill="#189fbf"/>
<rect x="139" y="270.90000000000003" width="66.5" height="18.4" fill="#189fbf"/>
<rect x="206.5" y="250" width="62" height="19.70000000000001" fill="#189fbf"/>
<rect x="206.5" y="270.90000000000003" width="62" height="18.4" fill="#189fbf"/>
<rect x="269.5" y="250" width="62" height="19.70000000000001" fill="#189fbf"/>
<rect x="269.5" y="270.90000000000003" width="62" height="18.4" fill="#189fbf"/>
<rect x="332.5" y="250" width="62" height="19.70000000000001" fill="#189fbf"/>
<rect x="332.5" y="270.90000000000003" width="62" height="18.4" fill="#189fbf"/>
<rect x="395.5" y="250" width="62" height="19.70000000000001" fill="#189fbf"/>
<rect x="395.5" y="270.90000000000003" width="62" height="18.4" fill="#189fbf"/>
<rect x="458.5" y="250" width="63" height="19.70000000000001" fill="#189fbf"/>
<rect x="458.5" y="270.90000000000003" width="63" height="18.4" fill="#189fbf"/>
<rect x="522.5" y="250" width="63" height="19.70000000000001" fill="#189fbf"/>
<rect x="522.5" y="270.90000000000003" width="63" height="18.4" fill="#189fbf"/>
<rect x="586.5" y="250" width="63" height="19.70000000000001" fill="#189fbf"/>
<rect x="586.5" y="270.90000000000003" width="63" height="18.4" fill="#189fbf"/>
<rect x="650.5" y="250" width="62" height="19.70000000000001" fill="#189fbf"/>
<rect x="650.5" y="270.90000000000003" width="62" height="18.4" fill="#189fbf"/>
<rect x="713.5" y="250" width="63" height="19.70000000000001" fill="#189fbf"/>
<rect x="713.5" y="270.90000000000003" width="63" height="18.4" fill="#189fbf"/>
<rect x="777.5" y="250" width="60" height="19.70000000000001" fill="#189fbf"/>
<rect x="777.5" y="270.90000000000003" width="60" height="18.4" fill="#189fbf"/>
<rect x="838.5" y="250" width="66.5" height="19.70000000000001" fill="#189fbf"/>
<rect x="838.5" y="270.90000000000003" width="66.5" height="18.4" fill="#189fbf"/>
<rect x="205.5" y="250" width="1" height="39.30000000000001" fill="#189fbf" opacity="0.2"/>
<rect x="268.5" y="250" width="1" height="39.30000000000001" fill="#189fbf" opacity="0.2"/>
<rect x="331.5" y="250" width="1" height="39.30000000000001" fill="#189fbf" opacity="0.2"/>
<rect x="394.5" y="250" width="1" height="39.30000000000001" fill="#189fbf" opacity="0.2"/>
<rect x="457.5" y="250" width="1" height="39.30000000000001" fill="#189fbf" opacity="0.2"/>
<rect x="521.5" y="250" width="1" height="39.30000000000001" fill="#189fbf" opacity="0.2"/>
<rect x="585.5" y="250" width="1" height="39.30000000000001" fill="#189fbf" opacity="0.2"/>
<rect x="649.5" y="250" width="1" height="39.30000000000001" fill="#189fbf" opacity="0.2"/>
<rect x="712.5" y="250" width="1" height="39.30000000000001" fill="#189fbf" opacity="0.2"/>
<rect x="776.5" y="250" width="1" height="39.30000000000001" fill="#189fbf" opacity="0.2"/>
<rect x="837.5" y="250" width="1" height="39.30000000000001" fill="#189fbf" opacity="0.2"/>
<rect x="139.5" y="269.7" width="765.5" height="1.2" fill="#189fbf" opacity="0.1"/>
<text x="173.3" y="262.0" font-size="10.6" fill="#fff" text-anchor="middle">101.8%</text>
<text x="236.8" y="262.0" font-size="10.6" fill="#fff" text-anchor="middle">-11.6%</text>
<text x="300.4" y="262.0" font-size="10.6" fill="#fff" text-anchor="middle">30.5%</text>
<text x="363.9" y="262.0" font-size="10.6" fill="#fff" text-anchor="middle">29.0%</text>
<text x="427.4" y="262.0" font-size="10.6" fill="#fff" text-anchor="middle">38.5%</text>
<text x="173.3" y="283.8" font-size="10.6" fill="#fff" text-anchor="middle">32.8%</text>
<text x="236.8" y="283.8" font-size="10.6" fill="#fff" text-anchor="middle">35.2%</text>
<text x="300.4" y="283.8" font-size="10.6" fill="#fff" text-anchor="middle">42.2%</text>
<text x="363.9" y="283.8" font-size="10.6" fill="#fff" text-anchor="middle">44.1%</text>
<text x="427.4" y="283.8" font-size="10.6" fill="#fff" text-anchor="middle">47.0%</text>
<text x="101" y="264.4" font-size="11">月同比</text>
<text x="101" y="284.1" font-size="11">渗透率</text>
<path d="M82.5,253.25 V264.75 H96" fill="none" stroke="#189fbf" stroke-width="1.3"/>
<path d="M84.5,261.75 L88,257.75 L90,260.05 L94,255.45" fill="none" stroke="#189fbf" stroke-width="1.6"/>
<path d="M91.3,254.65 H95 V258.35 Z" fill="#189fbf"/>
<path d="M88.6,281.8 V275.3 A6.5,6.5 0 1 0 95.1,281.8 Z" fill="#189fbf"/>
<path d="M90.1,280.3 V274.3 A6,6 0 0 1 96.1,280.3 Z" fill="#189fbf"/>
<rect x="138" y="469.8" width="767.5" height="44.19999999999999" fill="#ffffff"/>
<rect x="139" y="470.3" width="66.5" height="19.9" fill="#189fbf"/>
<rect x="139" y="491.40000000000003" width="66.5" height="18.4" fill="#189fbf"/>
<rect x="206.5" y="470.3" width="62" height="19.9" fill="#189fbf"/>
<rect x="206.5" y="491.40000000000003" width="62" height="18.4" fill="#189fbf"/>
<rect x="269.5" y="470.3" width="62" height="19.9" fill="#189fbf"/>
<rect x="269.5" y="491.40000000000003" width="62" height="18.4" fill="#189fbf"/>
<rect x="332.5" y="470.3" width="62" height="19.9" fill="#189fbf"/>
<rect x="332.5" y="491.40000000000003" width="62" height="18.4" fill="#189fbf"/>
<rect x="395.5" y="470.3" width="62" height="19.9" fill="#189fbf"/>
<rect x="395.5" y="491.40000000000003" width="62" height="18.4" fill="#189fbf"/>
<rect x="458.5" y="470.3" width="63" height="19.9" fill="#189fbf"/>
<rect x="458.5" y="491.40000000000003" width="63" height="18.4" fill="#189fbf"/>
<rect x="522.5" y="470.3" width="63" height="19.9" fill="#189fbf"/>
<rect x="522.5" y="491.40000000000003" width="63" height="18.4" fill="#189fbf"/>
<rect x="586.5" y="470.3" width="63" height="19.9" fill="#189fbf"/>
<rect x="586.5" y="491.40000000000003" width="63" height="18.4" fill="#189fbf"/>
<rect x="650.5" y="470.3" width="62" height="19.9" fill="#189fbf"/>
<rect x="650.5" y="491.40000000000003" width="62" height="18.4" fill="#189fbf"/>
<rect x="713.5" y="470.3" width="63" height="19.9" fill="#189fbf"/>
<rect x="713.5" y="491.40000000000003" width="63" height="18.4" fill="#189fbf"/>
<rect x="777.5" y="470.3" width="60" height="19.9" fill="#189fbf"/>
<rect x="777.5" y="491.40000000000003" width="60" height="18.4" fill="#189fbf"/>
<rect x="838.5" y="470.3" width="66.5" height="19.9" fill="#189fbf"/>
<rect x="838.5" y="491.40000000000003" width="66.5" height="18.4" fill="#189fbf"/>
<rect x="205.5" y="470.3" width="1" height="39.5" fill="#189fbf" opacity="0.2"/>
<rect x="268.5" y="470.3" width="1" height="39.5" fill="#189fbf" opacity="0.2"/>
<rect x="331.5" y="470.3" width="1" height="39.5" fill="#189fbf" opacity="0.2"/>
<rect x="394.5" y="470.3" width="1" height="39.5" fill="#189fbf" opacity="0.2"/>
<rect x="457.5" y="470.3" width="1" height="39.5" fill="#189fbf" opacity="0.2"/>
<rect x="521.5" y="470.3" width="1" height="39.5" fill="#189fbf" opacity="0.2"/>
<rect x="585.5" y="470.3" width="1" height="39.5" fill="#189fbf" opacity="0.2"/>
<rect x="649.5" y="470.3" width="1" height="39.5" fill="#189fbf" opacity="0.2"/>
<rect x="712.5" y="470.3" width="1" height="39.5" fill="#189fbf" opacity="0.2"/>
<rect x="776.5" y="470.3" width="1" height="39.5" fill="#189fbf" opacity="0.2"/>
<rect x="837.5" y="470.3" width="1" height="39.5" fill="#189fbf" opacity="0.2"/>
<rect x="139.5" y="490.2" width="765.5" height="1.2" fill="#189fbf" opacity="0.1"/>
<text x="173.3" y="483.1" font-size="10.6" fill="#fff" text-anchor="middle">76.2%</text>
<text x="236.8" y="483.1" font-size="10.6" fill="#fff" text-anchor="middle">-9.9%</text>
<text x="300.4" y="483.1" font-size="10.6" fill="#fff" text-anchor="middle">31.9%</text>
<text x="363.9" y="483.1" font-size="10.6" fill="#fff" text-anchor="middle">30.5%</text>
<text x="427.4" y="483.1" font-size="10.6" fill="#fff" text-anchor="middle">32.1%</text>
<text x="173.3" y="503.9" font-size="10.6" fill="#fff" text-anchor="middle">32.6%</text>
<text x="236.8" y="503.9" font-size="10.6" fill="#fff" text-anchor="middle">34.3%</text>
<text x="300.4" y="503.9" font-size="10.6" fill="#fff" text-anchor="middle">37.1%</text>
<text x="363.9" y="503.9" font-size="10.6" fill="#fff" text-anchor="middle">40.3%</text>
<text x="427.4" y="503.9" font-size="10.6" fill="#fff" text-anchor="middle">44.2%</text>
<text x="101" y="484.9" font-size="11">月同比</text>
<text x="101" y="504.6" font-size="11">渗透率</text>
<path d="M82.5,473.65000000000003 V485.15000000000003 H96" fill="none" stroke="#189fbf" stroke-width="1.3"/>
<path d="M84.5,482.15000000000003 L88,478.15000000000003 L90,480.45000000000005 L94,475.85" fill="none" stroke="#189fbf" stroke-width="1.6"/>
<path d="M91.3,475.05 H95 V478.75000000000006 Z" fill="#189fbf"/>
<path d="M88.6,502.3 V495.8 A6.5,6.5 0 1 0 95.1,502.3 Z" fill="#189fbf"/>
<path d="M90.1,500.8 V494.8 A6,6 0 0 1 96.1,500.8 Z" fill="#189fbf"/>
<text x="37" y="102" font-size="11">单位:</text><text x="70" y="102" font-size="11">万辆</text>
<text x="37" y="328" font-size="11">单位:</text><text x="70" y="328" font-size="11">万辆</text>
<text x="52.7" y="128.2" font-size="18" text-anchor="middle">新</text>
<text x="52.7" y="149.1" font-size="18" text-anchor="middle">能</text>
<text x="52.7" y="170.0" font-size="18" text-anchor="middle">源</text>
<text x="52.7" y="190.9" font-size="18" text-anchor="middle">乘</text>
<text x="52.7" y="211.8" font-size="18" text-anchor="middle">用</text>
<text x="52.7" y="232.7" font-size="18" text-anchor="middle">车</text>
<text x="78.4" y="139.3" font-size="18" text-anchor="middle" font-weight="bold">零</text>
<text x="78.4" y="166.7" font-size="18" text-anchor="middle" font-weight="bold">售</text>
<text x="78.4" y="194.1" font-size="18" text-anchor="middle" font-weight="bold">销</text>
<text x="78.4" y="221.5" font-size="18" text-anchor="middle" font-weight="bold">量</text>
<text x="52.7" y="353.2" font-size="18" text-anchor="middle">新</text>
<text x="52.7" y="374.2" font-size="18" text-anchor="middle">能</text>
<text x="52.7" y="395.2" font-size="18" text-anchor="middle">源</text>
<text x="52.7" y="416.2" font-size="18" text-anchor="middle">乘</text>
<text x="52.7" y="437.2" font-size="18" text-anchor="middle">用</text>
<text x="52.7" y="458.2" font-size="18" text-anchor="middle">车</text>
<text x="78.4" y="364.9" font-size="18" text-anchor="middle" font-weight="bold">批</text>
<text x="78.4" y="392.7" font-size="18" text-anchor="middle" font-weight="bold">发</text>
<text x="78.4" y="420.5" font-size="18" text-anchor="middle" font-weight="bold">销</text>
<text x="78.4" y="448.3" font-size="18" text-anchor="middle" font-weight="bold">量</text>
<line x1="34" y1="296.6" x2="904" y2="296.6" stroke="#189fbf" stroke-width="1.1" stroke-dasharray="4 2.1"/>
<path d="M42,291.5 L33.5,296.6 L42,301.7" fill="none" stroke="#189fbf" stroke-width="1.1"/>
<path d="M896,291.5 L904.5,296.6 L896,301.7" fill="none" stroke="#189fbf" stroke-width="1.1"/>
<rect x="0" y="518.8" width="163" height="2" fill="#7cc9db"/>
<rect x="163" y="518.9" width="650" height="1.2" fill="#189fbf"/>
<rect x="892" y="518.9" width="68" height="1.2" fill="#189fbf"/>
</svg>
<div class="foot">月度信息发布</div>
<nav><span style="width:63px">总体市场</span><span class="on" style="width:72px">新能源市场</span><span style="width:65px">厂商排名</span><span style="width:64px">市场分析</span></nav>
<div class="pn">7</div>
</body>
</html>
